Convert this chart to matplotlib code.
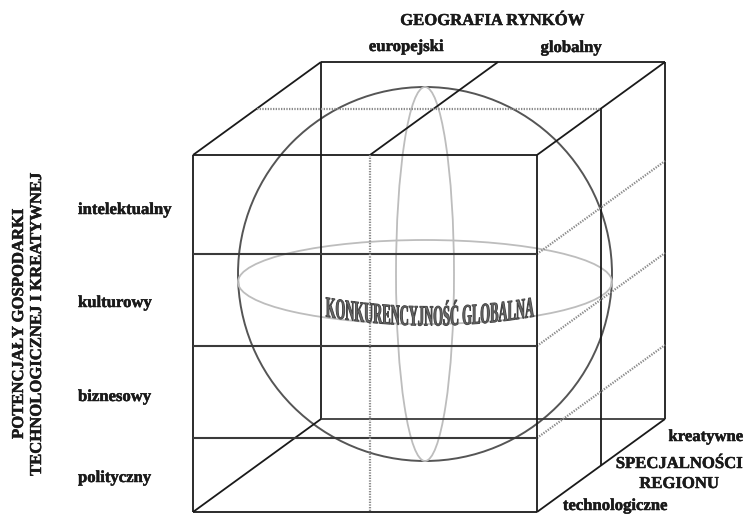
import numpy as np
import matplotlib
matplotlib.use("Agg")
import matplotlib.pyplot as plt
from matplotlib.patches import Ellipse, Circle
from matplotlib.path import Path
from matplotlib.transforms import Affine2D
import matplotlib.patheffects as pe
from matplotlib.colors import to_rgb

# ---- content ----
title_top = "GEOGRAFIA RYNKÓW"
market_labels = ["europejski", "globalny"]
potential_labels = ["intelektualny", "kulturowy", "biznesowy", "polityczny"]
left_title = ["POTENCJAŁY GOSPODARKI", "TECHNOLOGICZNEJ I KREATYWNEJ"]
depth_labels = ["kreatywne", "technologiczne"]
depth_title = ["SPECJALNOŚCI", "REGIONU"]
center_text = "KONKURENCYJNOŚĆ GLOBALNA"

FONT = "Liberation Serif"
INK = "#1a1a1a"

# ---- geometry (pixel space) ----
W, H = 746, 515
fx0, fx1 = 193, 537           # front face x
fy0, fy1 = 155, 512           # front face y
row_bounds = [155, 254, 346, 438, 512]
col_mid = 370
ddx, ddy = 128, -93           # depth offset


class WarpText(pe.AbstractPathEffect):
    """Condense text to a target width and bend it along a shallow arc."""

    def __init__(self, width_px, sag_px, face, edge, lw):
        super().__init__()
        self.width_px = width_px
        self.sag_px = sag_px
        self.face = to_rgb(face)
        self.edge = edge
        self.lw = lw

    def draw_path(self, renderer, gc, tpath, affine, rgbFace=None):
        v = affine.transform(tpath.vertices)
        codes = tpath.codes
        if codes is None:
            mask = np.ones(len(v), bool)
        else:
            mask = (codes != Path.CLOSEPOLY) & (codes != Path.STOP)
        x0, x1 = v[mask, 0].min(), v[mask, 0].max()
        cx = 0.5 * (x0 + x1)
        scale = renderer.points_to_pixels(72.0) / 100.0
        w = self.width_px * scale
        sx = w / (x1 - x0)
        nx = cx + (v[:, 0] - cx) * sx
        ny = v[:, 1] + self.sag_px * scale * ((nx - cx) / (w / 2)) ** 2
        npath = Path(np.column_stack([nx, ny]), codes)
        gc0 = renderer.new_gc()
        gc0.copy_properties(gc)
        gc0.set_foreground(self.edge)
        gc0.set_linewidth(self.lw)
        renderer.draw_path(gc0, npath, Affine2D(), self.face)
        gc0.restore()


fig = plt.figure(figsize=(W / 100, H / 100), dpi=100)
ax = fig.add_axes([0, 0, 1, 1])
ax.set_xlim(0, W)
ax.set_ylim(H, 0)
ax.axis("off")


def seg(p, q, color=INK, lw=1.3, ls="-", z=3):
    ax.plot([p[0], q[0]], [p[1], q[1]], color=color, lw=lw, ls=ls,
            solid_capstyle="butt", zorder=z)


def back(p, f=1.0):
    return (p[0] + ddx * f, p[1] + ddy * f)


# sphere and ellipses
cx, cy, r = 425, 274, 187
ax.add_patch(Circle((cx, cy), r, fill=False, ec="#555555", lw=1.4, zorder=2))
ax.add_patch(Ellipse((cx, 282), 2 * r, 84, fill=False, ec="#bdbdbd", lw=1.3, zorder=2))
ax.add_patch(Ellipse((cx, cy), 58, 2 * r, fill=False, ec="#bdbdbd", lw=1.3, zorder=2))

# back face edges
bl_t, br_t = back((fx0, fy0)), back((fx1, fy0))
bl_b, br_b = back((fx0, fy1)), back((fx1, fy1))
seg(bl_t, br_t)
seg(bl_t, bl_b)
seg(br_t, br_b)
seg(bl_b, br_b, color="#3a3a3a")

# depth edges
seg((fx0, fy0), bl_t)
seg((col_mid, fy0), back((col_mid, fy0)))
seg((fx1, fy0), br_t)
seg((fx0, fy1), bl_b)
seg((fx1, fy1), br_b)

# mid-depth lines
seg(back((fx1, fy0), 0.5), back((fx1, fy1), 0.5))
seg(back((fx0, fy0), 0.5), back((fx1, fy0), 0.5), color="#8a8a8a", lw=1.6, ls=(0, (0.6, 0.6)))

# right-face dotted row lines
for yb in row_bounds[1:-1]:
    seg((fx1, yb), back((fx1, yb)), color="#8a8a8a", lw=1.6, ls=(0, (0.6, 0.6)))

# front face
seg((fx0, fy0), (fx1, fy0))
seg((fx0, fy1), (fx1, fy1))
seg((fx0, fy0), (fx0, fy1))
seg((fx1, fy0), (fx1, fy1))
for yb in row_bounds[1:-1]:
    seg((fx0, yb), (fx1, yb), color="#3a3a3a", lw=1.5)
seg((col_mid, fy0), (col_mid, fy1), color="#8a8a8a", lw=1.6, ls=(0, (0.6, 0.6)))

# ---- texts ----
bold = [pe.withStroke(linewidth=0.35, foreground=INK)]
tkw = dict(family=FONT, fontweight="bold", color=INK, fontsize=12, path_effects=bold)
ax.text(492, 21, title_top, ha="center", va="center", **tkw)
ax.text(406, 47, market_labels[0], ha="center", va="center", **tkw)
ax.text(571, 48, market_labels[1], ha="center", va="center", **tkw)

label_y = [210, 303, 397, 478]
for lab, y in zip(potential_labels, label_y):
    ax.text(78, y, lab, ha="left", va="center", **tkw)

ax.text(19, 324, left_title[0], ha="center", va="center", rotation=90, **tkw)
ax.text(37, 325, left_title[1], ha="center", va="center", rotation=90, **tkw)

ax.text(743, 437, depth_labels[0], ha="right", va="center", **tkw)
ax.text(679, 464, depth_title[0], ha="center", va="center", **tkw)
ax.text(679, 484, depth_title[1], ha="center", va="center", **tkw)
ax.text(615, 506, depth_labels[1], ha="center", va="center", **tkw)

ax.text(429, 318, center_text, ha="center", va="center",
        family=FONT, fontweight="bold", fontsize=21, color="#6c6c6c",
        path_effects=[WarpText(208, 9, "#6c6c6c", "#454545", 0.7)], zorder=5)

fig.savefig("out.png", dpi=100)
